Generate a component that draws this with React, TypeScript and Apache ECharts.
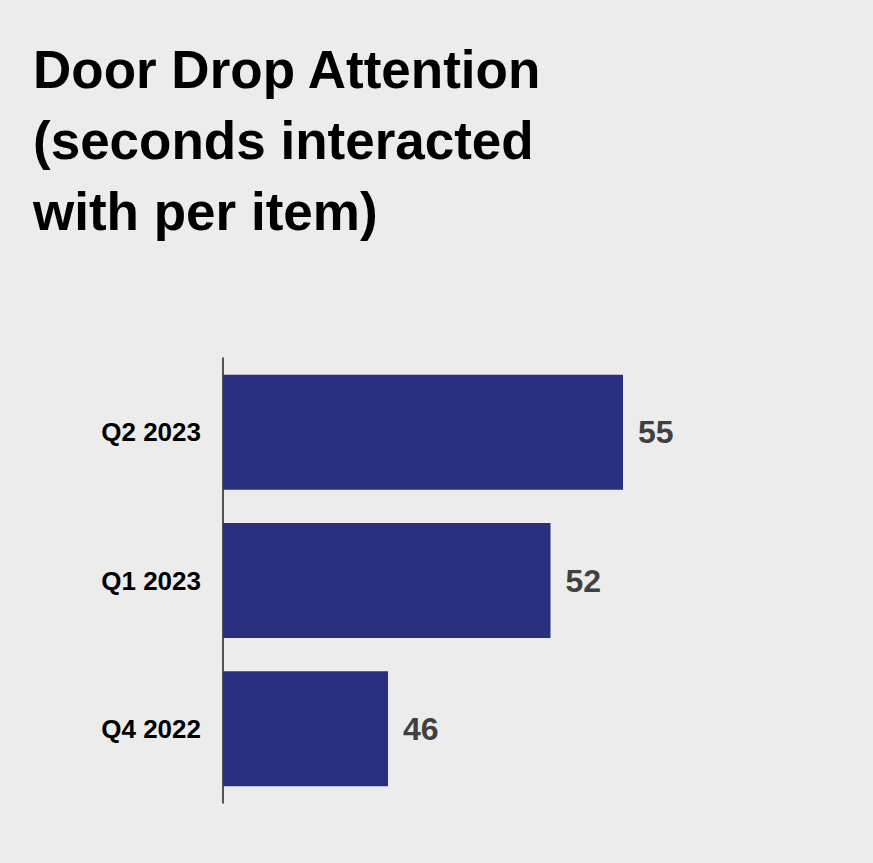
import React, { useEffect, useRef } from "react";
import * as echarts from "echarts";

const categories = ["Q4 2022", "Q1 2023", "Q2 2023"];
const seconds = [45.6, 52.1, 55.0];
const titleText = "Door Drop Attention\n(seconds interacted\nwith per item)";

export default function App() {
  const ref = useRef<HTMLDivElement>(null);
  useEffect(() => {
    document.body.style.margin = "0";
    document.body.style.background = "#ececec";
    const chart = echarts.init(ref.current!, null, { renderer: "svg" });
    chart.setOption({
      animation: false,
      backgroundColor: "#ececec",
      title: {
        text: titleText,
        left: 28,
        top: 29,
        textStyle: {
          fontFamily: "Liberation Sans, Arial, sans-serif",
          fontSize: 53,
          fontWeight: "bold",
          color: "#000",
          lineHeight: 71,
        },
      },
      grid: { left: 223, right: 250, top: 358, bottom: 60, containLabel: false },
      xAxis: {
        type: "value",
        min: 39,
        max: 55,
        show: false,
      },
      yAxis: {
        type: "category",
        data: categories,
        axisLine: { show: true, lineStyle: { color: "#222", width: 1.5 } },
        axisTick: { show: false },
        axisLabel: {
          margin: 22,
          fontFamily: "Liberation Sans, Arial, sans-serif",
          fontSize: 26,
          fontWeight: "bold",
          color: "#000",
        },
      },
      series: [
        {
          type: "bar",
          data: seconds,
          barCategoryGap: "22.5%",
          itemStyle: { color: "#2a2f7f" },
          label: {
            show: true,
            position: "right",
            distance: 15,
            formatter: (p: any) => String(Math.round(p.value)),
            fontFamily: "Liberation Sans, Arial, sans-serif",
            fontSize: 32,
            fontWeight: "bold",
            color: "#404040",
          },
        },
      ],
    });
    return () => chart.dispose();
  }, []);
  return <div ref={ref} style={{ width: 873, height: 863, background: "#ececec" }} />;
}
